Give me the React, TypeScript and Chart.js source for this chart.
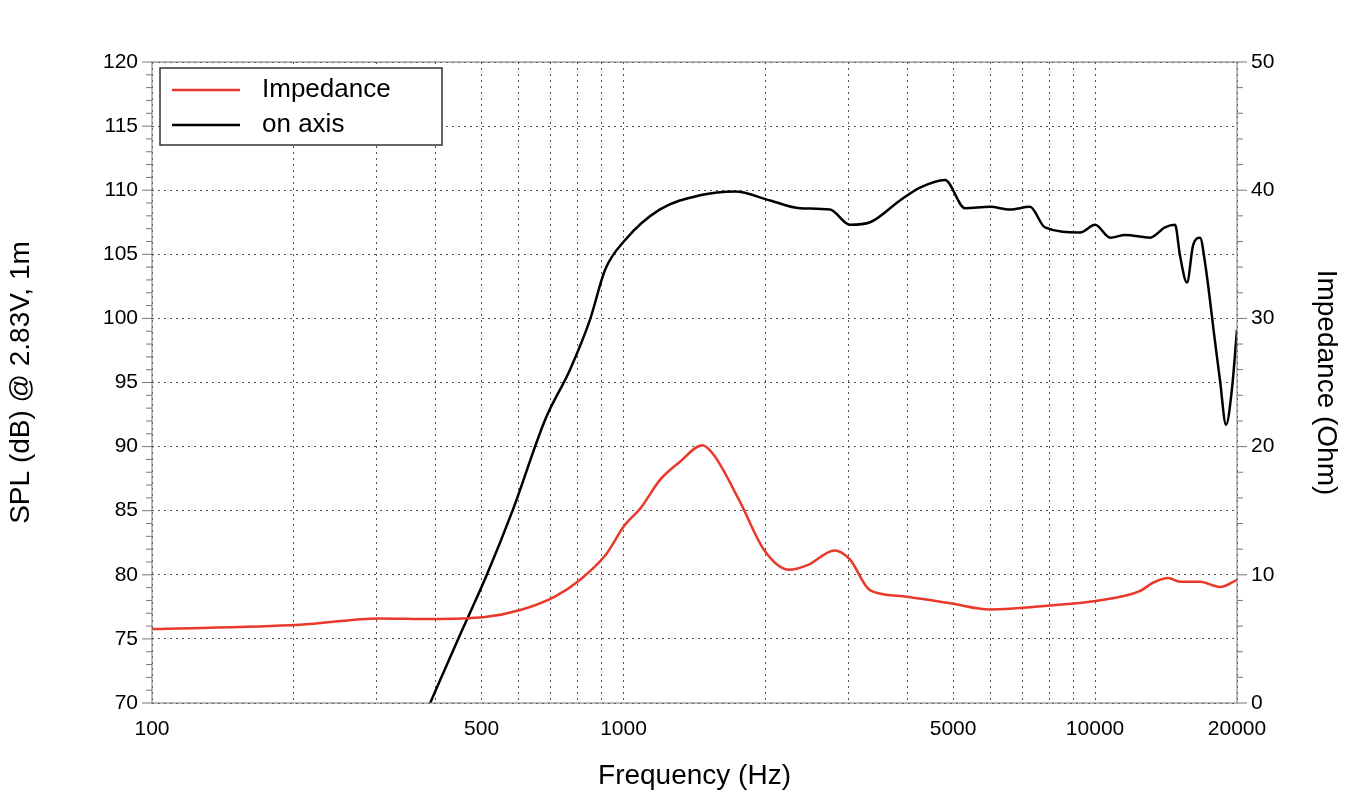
import React, { useEffect, useRef } from "react";
import { Chart, registerables } from "chart.js";
Chart.register(...registerables);

const splFreq = [389,446,513,583,682,770,849,914,1007,1195,1452,1724,2046,2366,2741,3022,3334,3857,4254,4805,5300,5985,6600,7277,7831,9294,10000,10770,11580,13090,14070,14780,15140,15670,16140,16700,17100,17950,18400,18960,19500,20000];
const splValues = [70,75,80,85.1,92.1,96,99.9,103.8,106.1,108.5,109.6,109.9,109.2,108.6,108.5,107.3,107.5,109.2,110.2,110.8,108.6,108.7,108.5,108.7,107.1,106.7,107.3,106.3,106.5,106.3,107.1,107.3,104.9,102.8,105.7,106.3,104.4,98.3,95.2,91.7,94.4,99.1];
const impFreq = [100,206,304,389,508,604,715,808,914,1007,1087,1195,1316,1470,1557,1760,1990,2245,2470,2800,3020,3330,3860,4900,5985,8000,10200,12400,13300,14300,15140,16700,18400,20000];
const impValues = [5.77,6.1,6.6,6.55,6.7,7.25,8.3,9.6,11.5,13.9,15.2,17.4,18.8,20.1,19.3,15.8,11.9,10.4,10.8,11.9,11.2,8.8,8.35,7.8,7.3,7.6,8.0,8.7,9.4,9.75,9.45,9.45,9.05,9.6];
const gridFreqs = [100,200,300,400,500,600,700,800,900,1000,2000,3000,4000,5000,6000,7000,8000,9000,10000,20000];
const labelFreqs = [100,500,1000,5000,10000,20000];
const legendLabels = ["Impedance", "on axis"];
const RED = "#e8392a";
const FONT = "'Liberation Sans', Arial, sans-serif";

export default function App() {
  const ref = useRef<HTMLCanvasElement>(null);
  useEffect(() => {
    const extra = {
      id: "extra",
      afterDraw(c: any) {
        const ctx = c.ctx; const a = c.chartArea;
        const y = c.scales.y, y1 = c.scales.y1;
        ctx.save();
        ctx.strokeStyle = "#777"; ctx.lineWidth = 1;
        ctx.strokeRect(a.left, a.top, a.right - a.left, a.bottom - a.top);
        ctx.beginPath();
        for (let v = 70; v <= 120; v++) {
          const p = y.getPixelForValue(v); const L = v % 5 === 0 ? 10 : 6;
          ctx.moveTo(a.left - L, p); ctx.lineTo(a.left, p);
        }
        for (let v = 0; v <= 50; v += 2) {
          const p = y1.getPixelForValue(v); const L = v % 10 === 0 ? 10 : 6;
          ctx.moveTo(a.right, p); ctx.lineTo(a.right + L, p);
        }
        ctx.stroke();
        ctx.fillStyle = "#fff"; ctx.fillRect(160, 68, 282, 77);
        ctx.strokeStyle = "#333"; ctx.lineWidth = 1.5; ctx.strokeRect(160, 68, 282, 77);
        const cols = [RED, "#000"];
        ctx.font = `26px ${FONT}`; ctx.textBaseline = "middle";
        legendLabels.forEach((t, i) => {
          const ly = 90 + i * 35;
          ctx.strokeStyle = cols[i]; ctx.lineWidth = 2.5;
          ctx.beginPath(); ctx.moveTo(172, ly); ctx.lineTo(240, ly); ctx.stroke();
          ctx.fillStyle = "#000"; ctx.fillText(t, 262, ly);
        });
        ctx.restore();
      },
    };
    const chart = new Chart(ref.current!, {
      type: "line",
      data: {
        datasets: [
          { label: "Impedance", data: impFreq.map((f, i) => ({ x: f, y: impValues[i] })), borderColor: RED, borderWidth: 2.5, pointRadius: 0, cubicInterpolationMode: "monotone", yAxisID: "y1" },
          { label: "on axis", data: splFreq.map((f, i) => ({ x: f, y: splValues[i] })), borderColor: "#000", borderWidth: 2.5, pointRadius: 0, cubicInterpolationMode: "monotone", yAxisID: "y" },
        ],
      },
      options: {
        animation: false, responsive: false,
        layout: { padding: { top: 62, left: 0, right: 0, bottom: 0 } },
        plugins: { legend: { display: false }, tooltip: { enabled: false } },
        scales: {
          x: {
            type: "logarithmic", min: 100, max: 20000,
            afterBuildTicks: (s: any) => { s.ticks = gridFreqs.map((v) => ({ value: v })); },
            afterFit: (s: any) => { s.height = 94; },
            ticks: { autoSkip: false, maxRotation: 0, color: "#000", font: { size: 21, family: FONT }, padding: 14,
              callback: (v: any) => (labelFreqs.includes(Number(v)) ? String(v) : "") },
            grid: { color: "#555", drawTicks: false, lineWidth: 1 },
            border: { display: false, dash: [2, 4] },
            title: { display: true, text: "Frequency (Hz)", color: "#000", font: { size: 28, family: FONT }, padding: { top: 6 } },
          },
          y: {
            position: "left", min: 70, max: 120,
            afterFit: (s: any) => { s.width = 152; },
            ticks: { stepSize: 1, autoSkip: false, color: "#000", font: { size: 21, family: FONT }, padding: 14,
              callback: (v: any) => (Number(v) % 5 === 0 ? String(v) : "") },
            grid: { drawTicks: false, lineWidth: 1, color: (c: any) => (c.tick && c.tick.value % 5 === 0 ? "#555" : "rgba(0,0,0,0)") },
            border: { display: false, dash: [2, 4] },
            title: { display: true, text: "SPL (dB) @ 2.83V, 1m", color: "#000", font: { size: 28, family: FONT }, padding: { bottom: 6 } },
          },
          y1: {
            position: "right", min: 0, max: 50,
            afterFit: (s: any) => { s.width = 110; },
            ticks: { stepSize: 10, color: "#000", font: { size: 21, family: FONT }, padding: 14 },
            grid: { display: false, drawTicks: false },
            border: { display: false },
            title: { display: true, text: "Impedance (Ohm)", color: "#000", font: { size: 28, family: FONT } },
          },
        },
      },
      plugins: [extra],
    } as any);
    return () => chart.destroy();
  }, []);
  return (
    <div style={{ position: "fixed", left: 0, top: 0, width: 1347, height: 797, background: "#fff" }}>
      <canvas ref={ref} width={1347} height={797} style={{ width: 1347, height: 797 }} />
    </div>
  );
}
